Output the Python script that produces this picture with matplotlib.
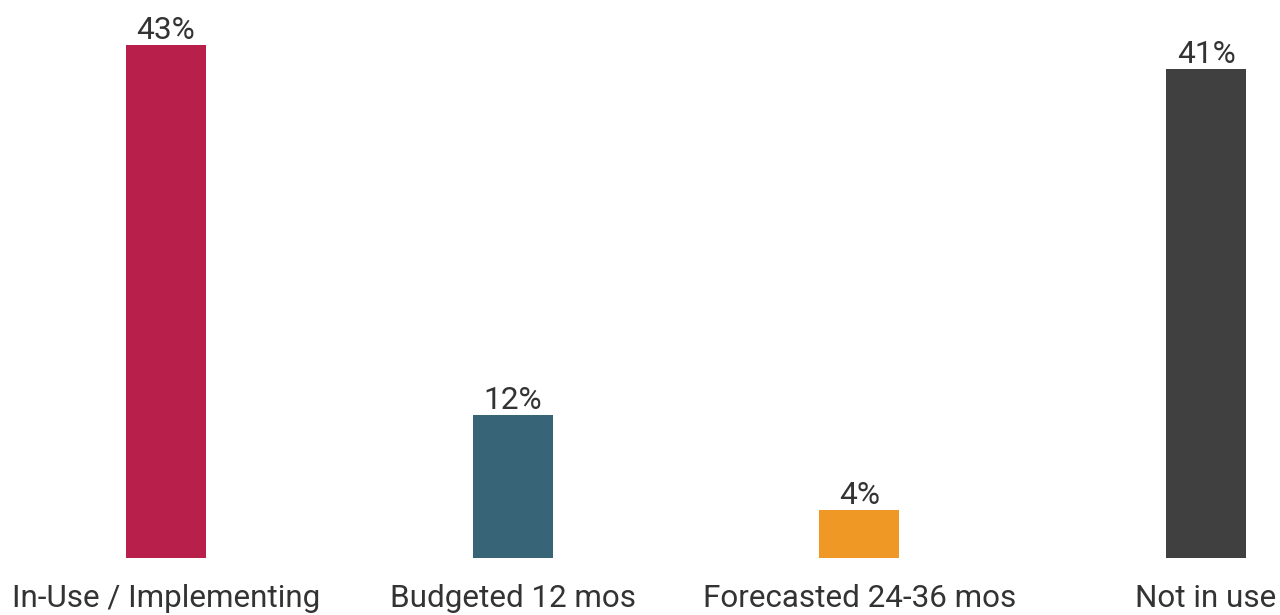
import matplotlib
matplotlib.use('Agg')
import matplotlib.pyplot as plt

plt.rcParams['font.family'] = ['Roboto', 'DejaVu Sans']

categories = ['In-Use / Implementing', 'Budgeted 12 mos', 'Forecasted 24-36 mos', 'Not in use']
values = [43, 12, 4, 41]
colors = ['#b81f4b', '#376577', '#f09826', '#404040']

textColor = '#333333'

fig = plt.figure(figsize=(12.8, 6.15), dpi=100)
ax = fig.add_axes([0, 0.0927, 1, 0.9073])

positions = list(range(len(categories)))
bars = ax.bar(positions, values, width=0.23, color=colors)

for bar, value in zip(bars, values):
  ax.text(bar.get_x() + bar.get_width() / 2, value + 0.5, str(value) + '%',
          ha='center', va='baseline', fontsize=22.8, color=textColor)

ax.set_xlim(-0.4788, 3.2134)
ax.set_ylim(0, 46.77)
ax.set_xticks(positions)
ax.set_xticklabels(categories, fontsize=22.6, color=textColor)
ax.tick_params(axis='x', length=0, pad=19)
ax.set_yticks([])
for spine in ax.spines.values():
  spine.set_visible(False)

fig.savefig('out.png', dpi=100)
